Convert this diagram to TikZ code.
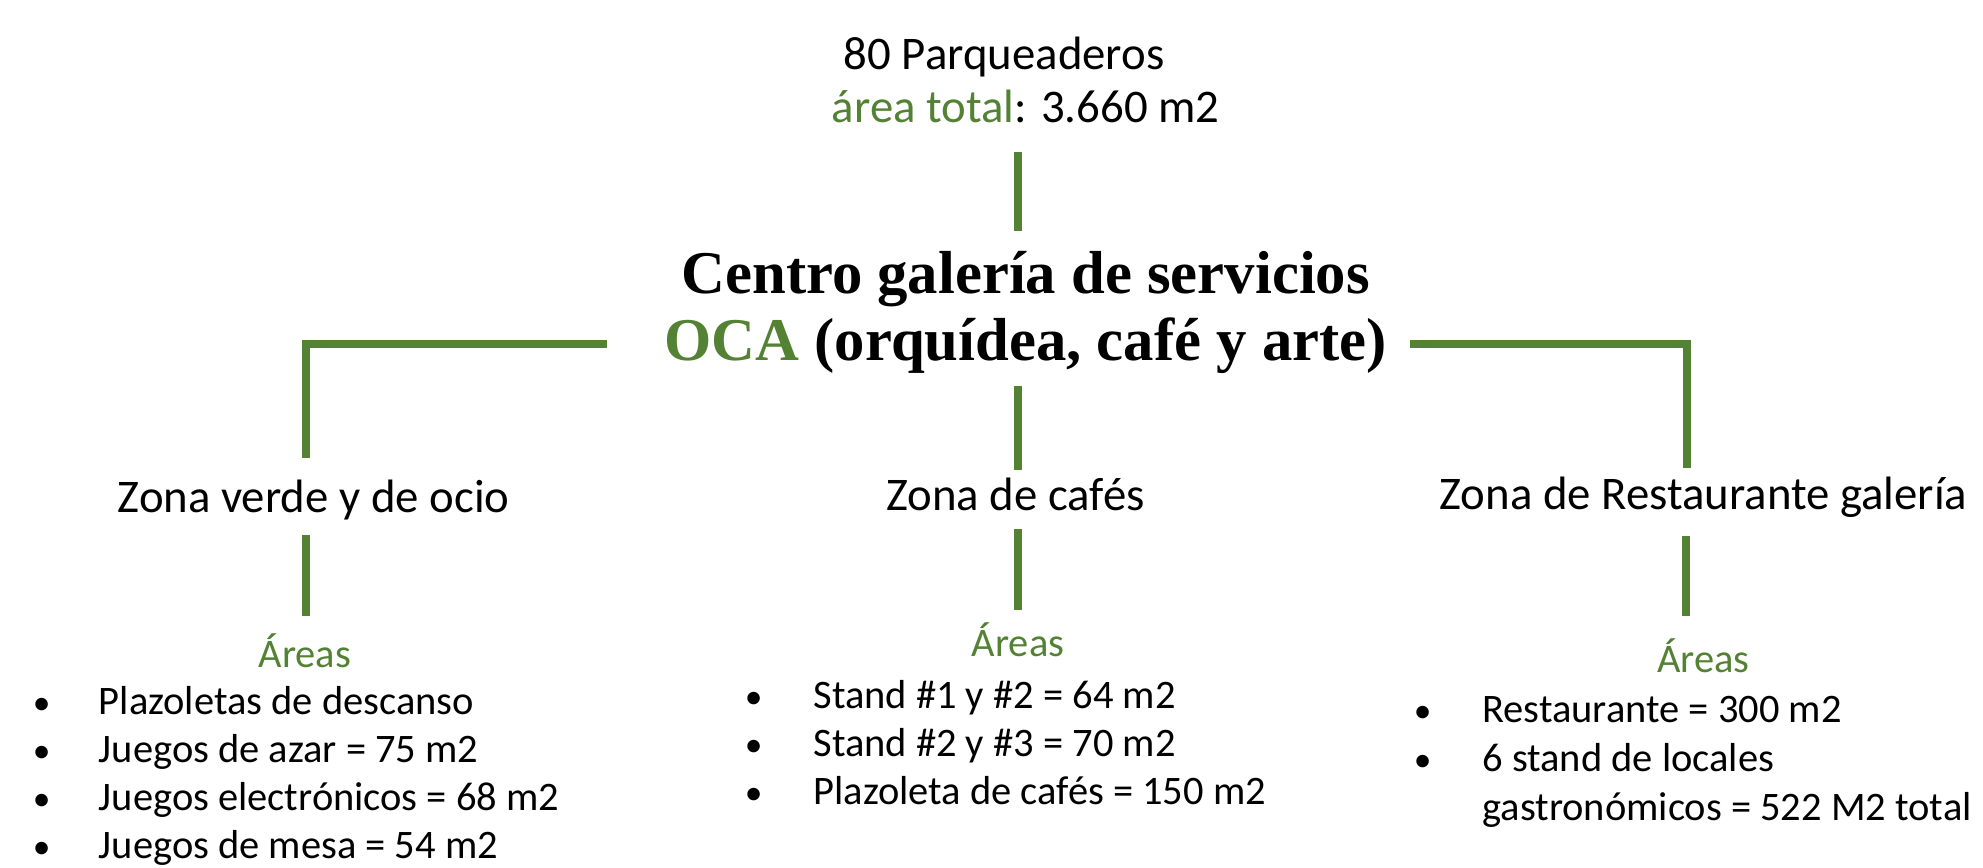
\documentclass[tikz,border=0pt]{standalone}
\usepackage{fontspec}
\setmainfont{Carlito}
\newfontfamily\titlefont{Liberation Serif}
\definecolor{ocagreen}{RGB}{84,130,53}
\begin{document}
\begin{tikzpicture}[x=1pt,y=-1pt,
  conn/.style={draw=ocagreen, line width=6pt, line join=miter},
  toptxt/.style={inner sep=0pt, anchor=base, font=\fontsize{37}{44}\selectfont},
  titletxt/.style={inner sep=0pt, align=center, font=\titlefont\bfseries\fontsize{48}{53}\selectfont},
  zonetxt/.style={inner sep=0pt, anchor=base, font=\fontsize{37}{44}\selectfont},
  areatxt/.style={inner sep=0pt, anchor=base, text=ocagreen, font=\fontsize{32}{38}\selectfont},
  itemtxt/.style={inner sep=0pt, anchor=base west, font=\fontsize{32}{38}\selectfont},
  bul/.style={inner sep=0pt, anchor=base, font=\fontsize{28}{38}\selectfont}]
\useasboundingbox (0,0) rectangle (1568,686);
\fill[white] (0,0) rectangle (1568,686);

% top texts
\node[toptxt] (park) at (794,55) {80 Parqueaderos};
\node[toptxt] (area) at (811,97) {\textcolor{ocagreen}{área total}: 3.660 m2};

% title
\node[titletxt] (title) at (811,247) {Centro galería de servicios\\\textcolor{ocagreen}{OCA} (orquídea, café y arte)};

% zones
\node[zonetxt] (zv) at (248,405) {Zona verde y de ocio};
\node[zonetxt] (zc) at (803,404) {Zona de cafés};
\node[zonetxt] (zr) at (1347,403) {Zona de Restaurante galería};

% areas labels
\node[areatxt] (av) at (241,528) {Áreas};
\node[areatxt] (ac) at (805,519) {Áreas};
\node[areatxt] (ar) at (1347,532) {Áreas};

% left list
\node[bul] (bv1) at (33,565) {•};
\node[itemtxt] (iv1) at (78,565) {Plazoletas de descanso};
\node[bul] (bv2) at (33,603) {•};
\node[itemtxt] (iv2) at (78,603) {Juegos de azar = 75 m2};
\node[bul] (bv3) at (33,641) {•};
\node[itemtxt] (iv3) at (78,641) {Juegos electrónicos = 68 m2};
\node[bul] (bv4) at (33,679) {•};
\node[itemtxt] (iv4) at (78,679) {Juegos de mesa = 54 m2};

% middle list
\node[bul] (bc1) at (596,560) {•};
\node[itemtxt] (ic1) at (643,560) {Stand \#1 y \#2 = 64 m2};
\node[bul] (bc2) at (596,598) {•};
\node[itemtxt] (ic2) at (643,598) {Stand \#2 y \#3 = 70 m2};
\node[bul] (bc3) at (596,636) {•};
\node[itemtxt] (ic3) at (643,636) {Plazoleta de cafés = 150 m2};

% right list
\node[bul] (br1) at (1125,571) {•};
\node[itemtxt] (ir1) at (1172,571) {Restaurante = 300 m2};
\node[bul] (br2) at (1125,610) {•};
\node[itemtxt] (ir2) at (1172,610) {6 stand de locales};
\node[itemtxt] (ir3) at (1172,649) {gastronómicos = 522 M2 total};

% connector coordinates
\coordinate (t1) at (805,120);
\coordinate (t2) at (805,183);
\coordinate (m1) at (805,305);
\coordinate (m2) at (805,372);
\coordinate (l1) at (480,272);
\coordinate (l2) at (242,272);
\coordinate (l3) at (242,362);
\coordinate (r1) at (1115,272);
\coordinate (r2) at (1334,272);
\coordinate (r3) at (1334,370);
\coordinate (lv1) at (242,423);
\coordinate (lv2) at (242,487);
\coordinate (cv1) at (805,418);
\coordinate (cv2) at (805,482);
\coordinate (rv1) at (1333,424);
\coordinate (rv2) at (1333,487);

\draw[conn] (t1) -- (t2);
\draw[conn] (m1) -- (m2);
\draw[conn] (l1) -- (l2) -- (l3);
\draw[conn] (r1) -- (r2) -- (r3);
\draw[conn] (lv1) -- (lv2);
\draw[conn] (cv1) -- (cv2);
\draw[conn] (rv1) -- (rv2);
\end{tikzpicture}
\end{document}
